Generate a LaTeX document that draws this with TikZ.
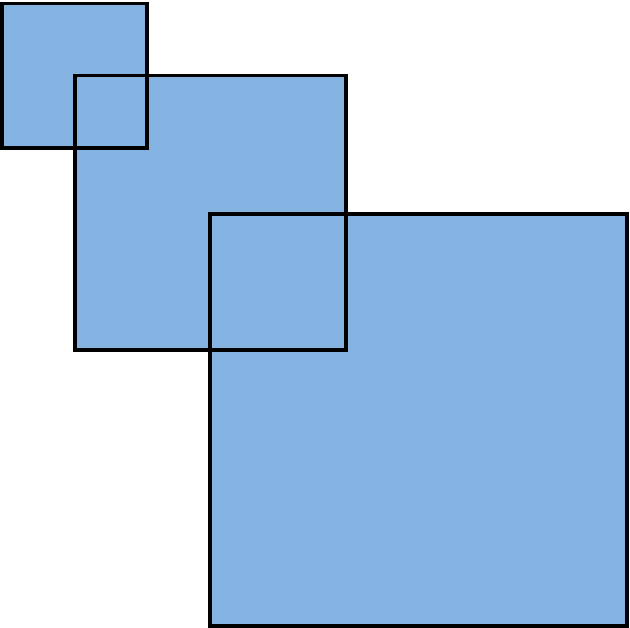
\documentclass[tikz,border=0pt]{standalone}
\usepackage{xcolor}
\usepackage{tikz}
\definecolor{boxblue}{HTML}{84B3E2}

\begin{document}
\begin{tikzpicture}[x=0.02cm, y=-0.02cm, line width=2.2pt]
                \useasboundingbox (0,0) rectangle (630,628);
                \tikzset{sqfill/.style={fill=boxblue, draw=none},
                         sqline/.style={draw=black, fill=none}}

                % fills first
                \path[sqfill] (2.3,3.5) rectangle (147.3,147.6);
                \path[sqfill] (74.8,75.5) rectangle (346,350.3);
                \path[sqfill] (210.3,214) rectangle (627.2,625.6);

                % outlines on top
                \draw[sqline] (2.3,3.5) rectangle (147.3,147.6);
                \draw[sqline] (74.8,75.5) rectangle (346,350.3);
                \draw[sqline] (210.3,214) rectangle (627.2,625.6);
            \end{tikzpicture}
\end{document}
